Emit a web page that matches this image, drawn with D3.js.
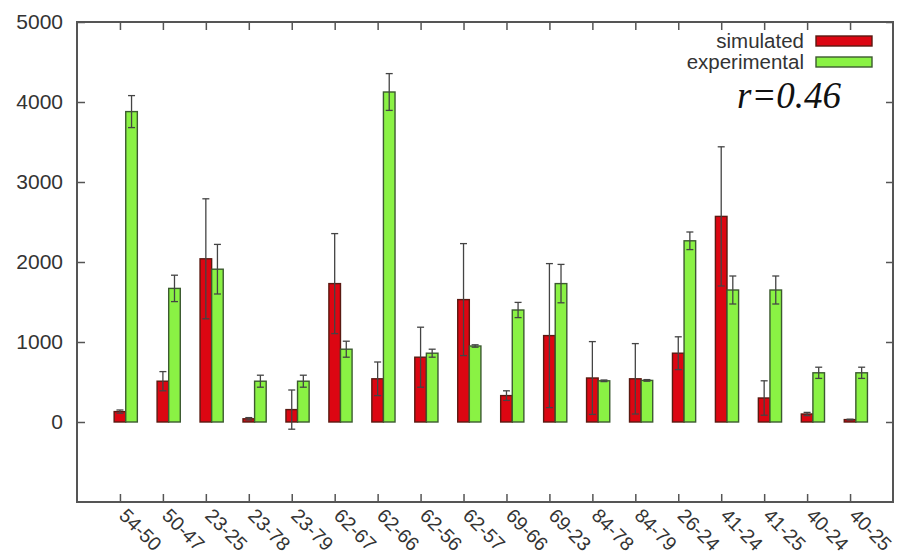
<!DOCTYPE html>
<html>
<head>
<meta charset="utf-8">
<script src="https://cdn.jsdelivr.net/npm/d3@7"></script>
<style>
  html, body { margin: 0; padding: 0; background: #fff; }
  svg { display: block; }
</style>
</head>
<body>
<svg id="chart" width="899" height="557"></svg>
<script>
// Atom pairs along the x axis
const pairs = ["54-50","50-47","23-25","23-78","23-79","62-67","62-66","62-56","62-57",
               "69-66","69-23","84-78","84-79","26-24","41-24","41-25","40-24","40-25"];

// Simulated distances and their errors
const simulated    = [130, 510, 2040, 40, 155, 1730, 540, 810, 1530, 330, 1080, 550, 540, 860, 2570, 300, 100, 30];
const simulatedErr = [20, 120, 750, 15, 245, 625, 210, 375, 700, 60, 900, 455, 440, 205, 870, 215, 20, 5];

// Experimental distances and their errors
const experimental    = [3880, 1670, 1910, 510, 510, 910, 4125, 860, 950, 1400, 1730, 515, 520, 2265, 1650, 1650, 615, 615];
const experimentalErr = [200, 165, 310, 75, 75, 100, 230, 50, 15, 95, 240, 10, 10, 110, 175, 175, 70, 70];

const yTicks = [0, 1000, 2000, 3000, 4000, 5000];
const legendLabels = ["simulated", "experimental"];
const correlationLabel = "r=0.46";

const svg = d3.select("#chart");
const frame = { left: 77, right: 893, top: 22, bottom: 502 };

const x = d3.scaleLinear().domain([0, pairs.length + 1]).range([frame.left, frame.right]);
const y = d3.scaleLinear().domain([-1000, 5000]).range([frame.bottom, frame.top]);

const barW = x(0.27) - x(0);
const axisColor = "#555";
const textColor = "#333";
const sans = "'Liberation Sans', Arial, sans-serif";

// Frame
svg.append("rect")
  .attr("x", frame.left).attr("y", frame.top)
  .attr("width", frame.right - frame.left).attr("height", frame.bottom - frame.top)
  .attr("fill", "none").attr("stroke", axisColor).attr("stroke-width", 2);

// Axes with inward ticks (mirrored on top and right)
const xIdx = pairs.map((d, i) => i + 1);
svg.append("g")
  .attr("transform", `translate(0,${frame.bottom})`)
  .call(d3.axisBottom(x).tickValues(xIdx).tickSizeInner(-8).tickSizeOuter(0).tickFormat(() => ""))
  .call(g => g.select(".domain").remove())
  .call(g => g.selectAll("line").attr("stroke", axisColor).attr("stroke-width", 1.5));
svg.append("g")
  .attr("transform", `translate(0,${frame.top})`)
  .call(d3.axisTop(x).tickValues(xIdx).tickSizeInner(-8).tickSizeOuter(0).tickFormat(() => ""))
  .call(g => g.select(".domain").remove())
  .call(g => g.selectAll("line").attr("stroke", axisColor).attr("stroke-width", 1.5));
svg.append("g")
  .attr("transform", `translate(${frame.left},0)`)
  .call(d3.axisLeft(y).tickValues(yTicks).tickSizeInner(-8).tickSizeOuter(0).tickPadding(14).tickFormat(d3.format("d")))
  .call(g => g.select(".domain").remove())
  .call(g => g.selectAll("line").attr("stroke", axisColor).attr("stroke-width", 1.5))
  .call(g => g.selectAll("text")
    .attr("fill", textColor)
    .style("font-family", sans)
    .style("font-size", "21px"));
svg.append("g")
  .attr("transform", `translate(${frame.right},0)`)
  .call(d3.axisRight(y).tickValues(yTicks).tickSizeInner(-7).tickSizeOuter(0).tickFormat(() => ""))
  .call(g => g.select(".domain").remove())
  .call(g => g.selectAll("line").attr("stroke", axisColor).attr("stroke-width", 1.5));

// Rotated category labels
svg.append("g").selectAll("text")
  .data(pairs)
  .join("text")
  .attr("transform", (d, i) => `translate(${x(i + 1) + 3},${frame.bottom + 10}) rotate(45)`)
  .attr("text-anchor", "start")
  .attr("dy", "0.35em")
  .attr("fill", textColor)
  .style("font-family", sans)
  .style("font-size", "19.5px")
  .text(d => d);

// Bars: simulated sits centred on the tick, experimental just to its right
const series = [
  { values: simulated, errs: simulatedErr, fill: "#dc0612", stroke: "#5a1a12", shift: -0.5 },
  { values: experimental, errs: experimentalErr, fill: "#8af244", stroke: "#3c5a30", shift: 0.5 }
];

series.forEach(s => {
  const g = svg.append("g");
  g.selectAll("rect")
    .data(s.values)
    .join("rect")
    .attr("x", (d, i) => x(i + 1) + s.shift * barW + (s.shift > 0 ? 0 : 0))
    .attr("y", d => y(Math.max(d, 0)))
    .attr("width", barW)
    .attr("height", d => Math.abs(y(d) - y(0)))
    .attr("fill", s.fill)
    .attr("stroke", s.stroke)
    .attr("stroke-width", 1.4);

  // Error bars through each bar's centre
  const eg = svg.append("g").attr("stroke", "#444").attr("stroke-width", 1.3);
  s.values.forEach((v, i) => {
    const e = s.errs[i];
    const c = x(i + 1) + s.shift * barW + barW / 2;
    eg.append("line").attr("x1", c).attr("x2", c).attr("y1", y(v - e)).attr("y2", y(v + e));
    eg.append("line").attr("x1", c - 3.5).attr("x2", c + 3.5).attr("y1", y(v + e)).attr("y2", y(v + e));
    eg.append("line").attr("x1", c - 3.5).attr("x2", c + 3.5).attr("y1", y(v - e)).attr("y2", y(v - e));
  });
});

// Legend
const legend = svg.append("g");
legendLabels.forEach((lab, i) => {
  const yy = 41 + i * 21;
  legend.append("text")
    .attr("x", 804).attr("y", yy)
    .attr("dy", "0.35em")
    .attr("text-anchor", "end")
    .attr("fill", textColor)
    .style("font-family", sans)
    .style("font-size", "20.5px")
    .text(lab);
  legend.append("rect")
    .attr("x", 816).attr("y", yy - 5)
    .attr("width", 56).attr("height", 10)
    .attr("fill", series[i].fill)
    .attr("stroke", series[i].stroke)
    .attr("stroke-width", 1.4);
});

// Correlation annotation
svg.append("text")
  .attr("x", 737).attr("y", 108)
  .attr("fill", "#111")
  .style("font-family", "'Liberation Serif', 'Times New Roman', serif")
  .style("font-style", "italic")
  .style("font-size", "37px")
  .text(correlationLabel);
</script>
</body>
</html>
